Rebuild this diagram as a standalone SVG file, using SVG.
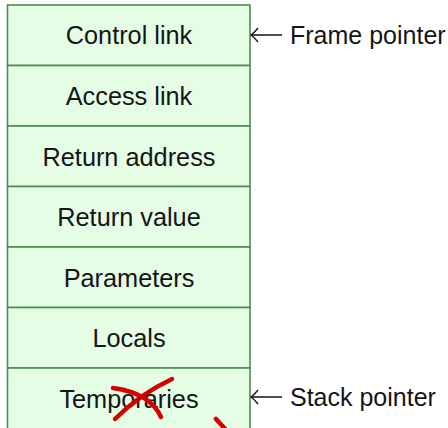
<svg xmlns="http://www.w3.org/2000/svg" width="448" height="428" viewBox="0 0 448 428">
  <style>
    .cell { fill: #e5fce5; stroke: #4f8a4f; stroke-width: 1.6; }
    .lbl { font-family: "Liberation Sans", Arial, sans-serif; font-size: 25.3px; fill: #151515; text-anchor: middle; }
    .note { font-family: "Liberation Sans", Arial, sans-serif; font-size: 25px; fill: #151515; }
    .ptr { stroke: #151515; stroke-width: 1.4; fill: none; }
    .cross { stroke: #d40000; stroke-width: 4.5; fill: none; stroke-linecap: round; }
  </style>
  <rect width="448" height="428" fill="#ffffff"/>

  <g id="control-link"><rect class="cell" x="7.5" y="5" width="242.5" height="60.5"/><text class="lbl" x="129" y="44">Control link</text></g>
  <g id="access-link"><rect class="cell" x="7.5" y="65.5" width="242.5" height="60.5"/><text class="lbl" x="129" y="105">Access link</text></g>
  <g id="return-address"><rect class="cell" x="7.5" y="126" width="242.5" height="60.5"/><text class="lbl" x="129" y="165.5">Return address</text></g>
  <g id="return-value"><rect class="cell" x="7.5" y="186.5" width="242.5" height="60.5"/><text class="lbl" x="129" y="226">Return value</text></g>
  <g id="parameters"><rect class="cell" x="7.5" y="247" width="242.5" height="60.5"/><text class="lbl" x="129" y="286.5">Parameters</text></g>
  <g id="locals"><rect class="cell" x="7.5" y="307.5" width="242.5" height="60.5"/><text class="lbl" x="129" y="347">Locals</text></g>
  <g id="temporaries"><rect class="cell" x="7.5" y="368" width="242.5" height="80"/><text class="lbl" x="129" y="407.5">Temporaries</text></g>

  <g id="connectors">
    <path class="ptr" d="M251,35 H282 M258,28 Q254,33 251,35 Q254,37 258,42"/>
    <path class="ptr" d="M251,397 H282 M258,390 Q254,395 251,397 Q254,399 258,404"/>
  </g>
  <g id="frame-pointer"><text class="note" x="290" y="44">Frame pointer</text></g>
  <g id="stack-pointer"><text class="note" x="290" y="406">Stack pointer</text></g>

  <!-- red strike marks -->
  <g id="strike">
    <path class="cross" d="M115,419 Q140,394 172,379"/>
    <path class="cross" d="M113,388 Q150,393 161,417"/>
    <path class="cross" d="M216,419 L227,431"/>
  </g>
</svg>
